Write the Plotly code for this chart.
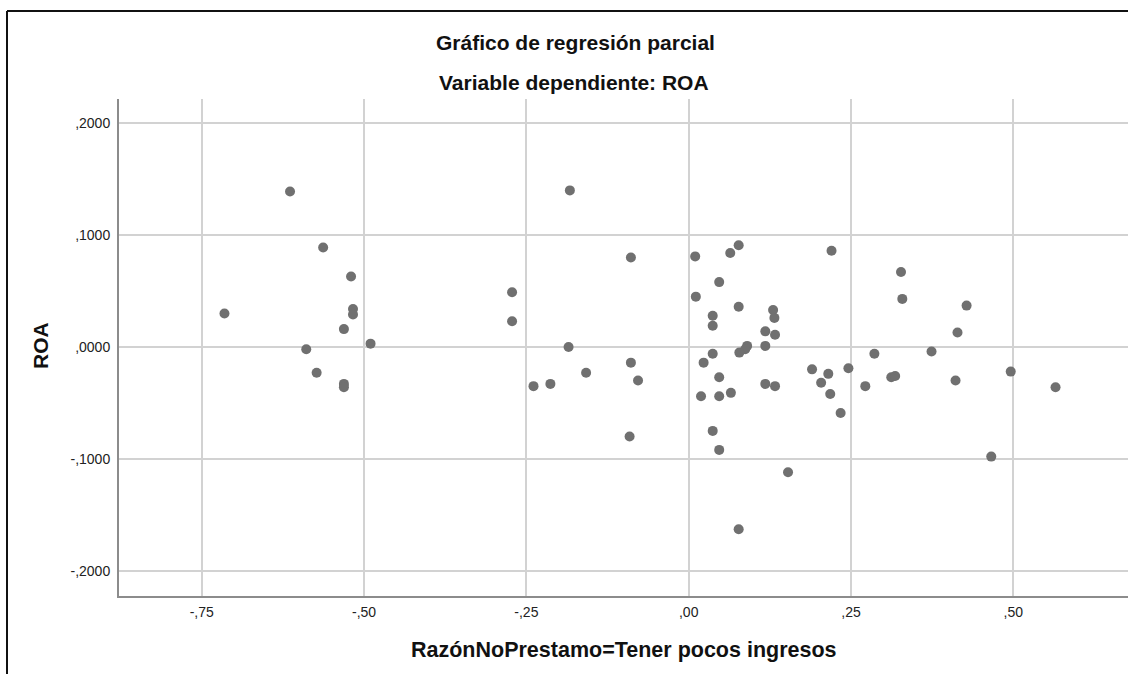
import plotly.graph_objects as go

# Partial regression plot: ROA vs. RazónNoPrestamo=Tener pocos ingresos (residuals)
razon_x = [
    -0.614, -0.563, -0.520, -0.715, -0.517, -0.517, -0.531, -0.490, -0.589, -0.573, -0.531, -0.531,
    -0.183, -0.089, 0.010, 0.064, 0.077, -0.272, 0.047, 0.011, 0.077, 0.037, 0.130, 0.132,
    -0.272, 0.037, 0.118, 0.133, -0.185, 0.090, 0.087, 0.078, 0.118, 0.037, -0.089, 0.023,
    -0.158, 0.047, -0.078, -0.239, -0.213, 0.118, 0.133, 0.019, 0.047, 0.065, -0.091, 0.037,
    0.047, 0.153, 0.077,
    0.220, 0.327, 0.329, 0.428, 0.414, 0.286, 0.374, 0.190, 0.215, 0.246, 0.204, 0.218,
    0.272, 0.312, 0.318, 0.411, 0.496, 0.565, 0.234, 0.466,
]
roa_y = [
    0.139, 0.089, 0.063, 0.030, 0.034, 0.029, 0.016, 0.003, -0.002, -0.023, -0.033, -0.036,
    0.140, 0.080, 0.081, 0.084, 0.091, 0.049, 0.058, 0.045, 0.036, 0.028, 0.033, 0.026,
    0.023, 0.019, 0.014, 0.011, 0.000, 0.001, -0.002, -0.005, 0.001, -0.006, -0.014, -0.014,
    -0.023, -0.027, -0.030, -0.035, -0.033, -0.033, -0.035, -0.044, -0.044, -0.041, -0.080, -0.075,
    -0.092, -0.112, -0.163,
    0.086, 0.067, 0.043, 0.037, 0.013, -0.006, -0.004, -0.020, -0.024, -0.019, -0.032, -0.042,
    -0.035, -0.027, -0.026, -0.030, -0.022, -0.036, -0.059, -0.098,
]

x_tickvals = [-0.75, -0.50, -0.25, 0.00, 0.25, 0.50]
x_ticktext = ["-,75", "-,50", "-,25", ",00", ",25", ",50"]
y_tickvals = [0.2, 0.1, 0.0, -0.1, -0.2]
y_ticktext = [",2000", ",1000", ",0000", "-,1000", "-,2000"]

title_line1 = "Gráfico de regresión parcial"
title_line2 = "Variable dependiente: ROA"
x_title = "RazónNoPrestamo=Tener pocos ingresos"
y_title = "ROA"

W, H = 1128, 674
ML, MR, MT, MB = 119, 0, 99, 78
PW, PH = W - ML - MR, H - MT - MB


def px_to_paper_x(px):
    return (px - ML) / PW


def px_to_paper_y(py):
    return (H - MB - py) / PH


FONT = "Liberation Sans, Arial, sans-serif"

fig = go.Figure()
fig.add_trace(go.Scatter(
    x=razon_x, y=roa_y, mode="markers",
    marker=dict(color="#707070", size=10, line=dict(width=0)),
    hoverinfo="x+y", showlegend=False,
))

axis_common = dict(
    showgrid=True, gridcolor="#d2d2d2", gridwidth=1.5,
    showline=True, linecolor="#8c8c8c", linewidth=2,
    zeroline=False, ticks="", tickmode="array",
    tickfont=dict(family=FONT, size=14, color="#222222"),
)

fig.update_xaxes(range=[-0.8774, 0.6766], tickvals=x_tickvals, ticktext=x_ticktext,
                 ticklabelstandoff=2, **axis_common)
fig.update_yaxes(range=[-0.2226, 0.2217], tickvals=y_tickvals, ticktext=y_ticktext,
                 ticklabelstandoff=4, **axis_common)

annotations = [
    dict(text=title_line1, x=px_to_paper_x(575), y=px_to_paper_y(43), size=21),
    dict(text=title_line2, x=px_to_paper_x(574), y=px_to_paper_y(82), size=21),
    dict(text=x_title, x=0.5, y=px_to_paper_y(650), size=21.5),
    dict(text=y_title, x=px_to_paper_x(40), y=px_to_paper_y(346), size=21, textangle=-90),
]
for a in annotations:
    size = a.pop("size")
    fig.add_annotation(xref="paper", yref="paper", xanchor="center", yanchor="middle",
                       showarrow=False,
                       font=dict(family=FONT, size=size, color="#111111", weight="bold"), **a)

# frame lines on the left and top edges of the chart
frame = dict(color="#111111", width=2)
fig.add_shape(type="line", xref="paper", yref="paper",
              x0=px_to_paper_x(7), x1=px_to_paper_x(7),
              y0=px_to_paper_y(11), y1=px_to_paper_y(H), line=frame)
fig.add_shape(type="line", xref="paper", yref="paper",
              x0=px_to_paper_x(7), x1=px_to_paper_x(W + 2),
              y0=px_to_paper_y(11), y1=px_to_paper_y(11), line=frame)

fig.update_layout(
    width=W, height=H, autosize=False,
    margin=dict(l=ML, r=MR, t=MT, b=MB, pad=0),
    paper_bgcolor="white", plot_bgcolor="white",
    font=dict(family=FONT),
    showlegend=False,
)

fig.write_html("out.html", config={"displayModeBar": False})
